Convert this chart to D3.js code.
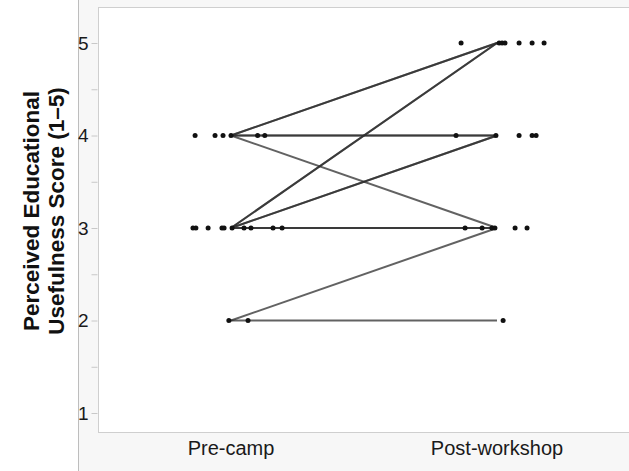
<!DOCTYPE html>
<html>
<head>
<meta charset="utf-8">
<script src="https://cdn.jsdelivr.net/npm/d3@7"></script>
<style>
  body { margin: 0; background: #fff; }
  svg { display: block; font-family: "Liberation Sans", Arial, sans-serif; }
</style>
</head>
<body>
<div id="svg-holder"></div>
<script>
var width = 629;
var height = 471;

var categories = ["Pre-camp", "Post-workshop"];
var yTicks = [1, 2, 3, 4, 5];

// paired scores (pre -> post), count = number of participants on that path
var pairPre   = [4, 4, 4, 3, 3, 3, 2, 2];
var pairPost  = [5, 4, 3, 5, 4, 3, 3, 2];
var pairCount = [2, 2, 1, 2, 2, 2, 1, 1];

// jittered points, x in category units (1 = Pre-camp, 2 = Post-workshop)
var preX  = [0.865, 0.94, 0.97, 1.0, 1.10, 1.127,
             0.857, 0.868, 0.914, 0.966, 0.974, 1.004, 1.049, 1.075, 1.158, 1.192,
             0.992, 1.064];
var preY  = [4, 4, 4, 4, 4, 4,
             3, 3, 3, 3, 3, 3, 3, 3, 3, 3,
             2, 2];
var postX = [1.865, 2.008, 2.019, 2.030, 2.083, 2.132, 2.177,
             1.846, 1.996, 2.083, 2.132, 2.147,
             1.880, 1.944, 1.981, 1.992, 2.068, 2.113,
             2.023];
var postY = [5, 5, 5, 5, 5, 5, 5,
             4, 4, 4, 4, 4,
             3, 3, 3, 3, 3, 3,
             2];

var panel = { left: 98, top: 7, right: 630, bottom: 432 };

var svg = d3.select('#svg-holder').append('svg')
            .attr("width", width)
            .attr("height", height);

// grey page area + left rule
svg.append('rect').attr('x', 78).attr('y', 0)
   .attr('width', width - 78).attr('height', height).attr('fill', '#f7f7f7');
svg.append('line').attr('x1', 78.5).attr('x2', 78.5).attr('y1', 0).attr('y2', height)
   .attr('stroke', '#bdbdbd').attr('stroke-width', 1);

svg.append('rect')
   .attr('x', panel.left + 0.5).attr('y', panel.top + 0.5)
   .attr('width', panel.right - panel.left).attr('height', panel.bottom - panel.top)
   .attr('fill', '#fff').attr('stroke', '#cfcfcf').attr('stroke-width', 1);

var x = d3.scaleLinear().domain([0.5, 2.5]).range([panel.left, panel.right]);
var y = d3.scaleLinear().domain([1, 5]).range([413, 43]);

// y axis
var yAxis = d3.axisLeft(y)
    .tickValues(d3.range(1, 5.01, 0.5))
    .tickSize(6)
    .tickFormat(function(d) { return yTicks.indexOf(d) >= 0 ? d : ""; });
var ya = svg.append('g').attr('transform', 'translate(' + (panel.left - 0.5) + ',0)').call(yAxis);
ya.select('.domain').remove();
ya.selectAll('line').attr('stroke', '#c8c8c8');
ya.selectAll('text').attr('font-size', 19).attr('fill', '#1a1a1a').attr('x', -9)
  .attr('font-family', '"Liberation Sans", Arial, sans-serif');

// x labels
svg.selectAll('text.xl')
   .data(categories)
   .enter().append('text')
   .attr('class', 'xl')
   .attr('x', function(d, i) { return x(i + 1); })
   .attr('y', 455)
   .attr('text-anchor', 'middle')
   .attr('font-size', 20)
   .attr('fill', '#1a1a1a')
   .text(function(d) { return d; });

// y title
var yt = svg.append('text')
   .attr('transform', 'translate(43,211) rotate(-90)')
   .attr('text-anchor', 'middle')
   .attr('font-size', 22.5)
   .attr('font-weight', 'bold')
   .attr('fill', '#111');
yt.append('tspan').attr('x', 0).attr('dy', -4).text('Perceived Educational');
yt.append('tspan').attr('x', 0).attr('dy', 25).text('Usefulness Score (1\u20135)');

// paired lines, repeated by count so overlapping paths darken
var lines = [];
pairPre.forEach(function(p, i) {
    for (var k = 0; k < pairCount[i]; k++) lines.push({ a: p, b: pairPost[i] });
});
svg.append('g').selectAll('line')
   .data(lines)
   .enter().append('line')
   .attr('x1', x(1)).attr('x2', x(2))
   .attr('y1', function(d) { return y(d.a); })
   .attr('y2', function(d) { return y(d.b); })
   .attr('stroke', '#2e2e2e')
   .attr('stroke-opacity', 0.75)
   .attr('stroke-width', 2);

// points
var pts = preX.map(function(v, i) { return { x: v, y: preY[i] }; })
    .concat(postX.map(function(v, i) { return { x: v, y: postY[i] }; }));
svg.append('g').selectAll('circle')
   .data(pts)
   .enter().append('circle')
   .attr('cx', function(d) { return x(d.x); })
   .attr('cy', function(d) { return y(d.y); })
   .attr('r', 2.5)
   .attr('fill', '#111');
</script>
</body>
</html>
